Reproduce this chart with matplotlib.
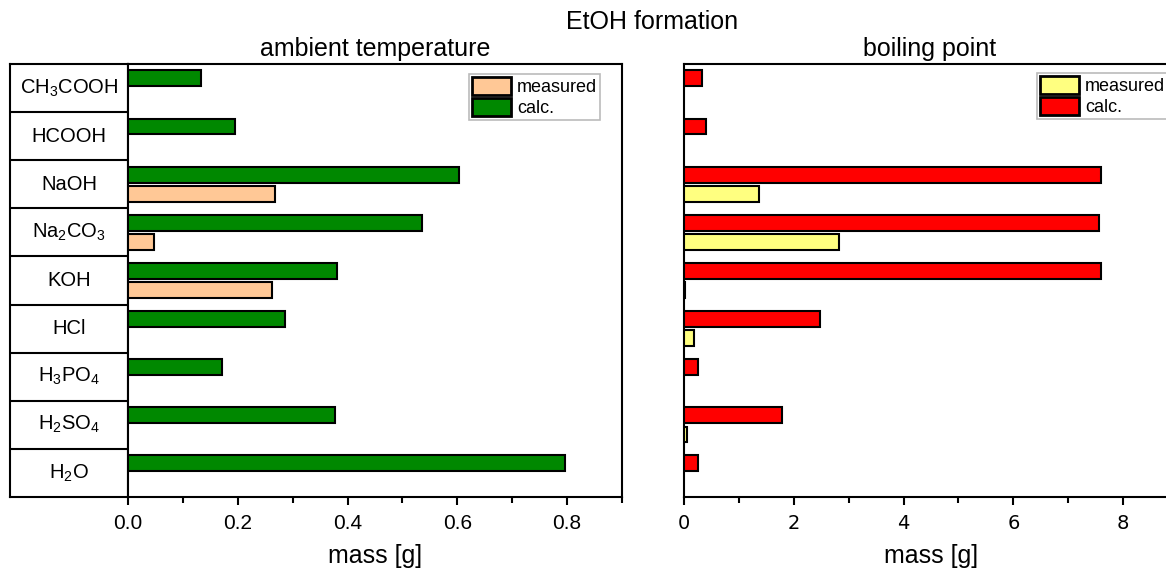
import numpy as np
import matplotlib.pyplot as plt
from matplotlib.patches import Patch
from matplotlib.ticker import MultipleLocator, FormatStrFormatter

plt.rcParams['font.family'] = ['Liberation Sans', 'DejaVu Sans']
plt.rcParams['mathtext.fontset'] = 'custom'
plt.rcParams['mathtext.rm'] = 'Liberation Sans'
plt.rcParams['mathtext.it'] = 'Liberation Sans:italic'

categories = ['CH$_3$COOH', 'HCOOH', 'NaOH', 'Na$_2$CO$_3$', 'KOH', 'HCl',
              'H$_3$PO$_4$', 'H$_2$SO$_4$', 'H$_2$O']
amb_calc = [0.133, 0.195, 0.603, 0.536, 0.381, 0.286, 0.171, 0.377, 0.797]
amb_meas = [np.nan, np.nan, 0.267, 0.048, 0.263, np.nan, np.nan, np.nan, np.nan]
bp_calc = [0.32, 0.40, 7.59, 7.56, 7.59, 2.47, 0.25, 1.79, 0.25]
bp_meas = [np.nan, np.nan, 1.37, 2.82, 0.02, 0.19, np.nan, 0.06, np.nan]

W, H = 1166, 574
fig = plt.figure(figsize=(W / 100, H / 100), dpi=100)

def box(x0, x1, y0=64, y1=497):
    return [x0 / W, 1 - y1 / H, (x1 - x0) / W, (y1 - y0) / H]

ax_t = fig.add_axes(box(10, 128))
ax1 = fig.add_axes(box(128, 622))
ax2 = fig.add_axes(box(684, 1178))

y = np.arange(len(categories))
h = 0.33
off = 0.2

# label table on the left
ax_t.set_ylim(len(categories) - 0.5, -0.5)
ax_t.set_xlim(0, 1)
for i, c in enumerate(categories):
    ax_t.text(0.5, i, c, ha='center', va='center', fontsize=14.5)
    if i > 0:
        ax_t.axhline(i - 0.5, color='black', lw=1.5)
ax_t.set_xticks([])
ax_t.set_yticks([])
for s in ax_t.spines.values():
    s.set_linewidth(1.5)

def panel(ax, calc, meas, c_calc, c_meas, xmax, major, minor, leg_xy):
    calc = np.array(calc)
    meas = np.array(meas)
    m = np.isfinite(meas)
    ax.barh(y - off, calc, height=h, color=c_calc, edgecolor='black', lw=1.5, zorder=3)
    ax.barh(y[m] + off, meas[m], height=h, color=c_meas, edgecolor='black', lw=1.5, zorder=3)
    ax.set_ylim(len(categories) - 0.5, -0.5)
    ax.set_xlim(0, xmax)
    ax.set_yticks([])
    ax.xaxis.set_major_locator(MultipleLocator(major))
    ax.xaxis.set_minor_locator(MultipleLocator(minor))
    ax.tick_params(axis='x', which='major', direction='out', length=6, width=1.5, labelsize=15, pad=6)
    ax.tick_params(axis='x', which='minor', direction='out', length=4, width=1.5)
    for s in ax.spines.values():
        s.set_linewidth(1.5)
    ax.set_xlabel('mass [g]', fontsize=18, labelpad=8)
    leg = ax.legend(handles=[Patch(facecolor=c_meas, edgecolor='black', lw=2, label='measured'),
                             Patch(facecolor=c_calc, edgecolor='black', lw=2, label='calc.')],
                    fontsize=13, frameon=True, fancybox=False, borderpad=0.15,
                    labelspacing=0.12, handlelength=2.2, handleheight=1.15,
                    handletextpad=0.3, borderaxespad=0, loc='upper left',
                    bbox_to_anchor=(leg_xy[0] / W, 1 - leg_xy[1] / H),
                    bbox_transform=fig.transFigure)
    leg.get_frame().set_edgecolor('#aaaaaa')
    leg.get_frame().set_linewidth(1.2)
    return leg

panel(ax1, amb_calc, amb_meas, '#008800', '#FFC896', 0.9, 0.2, 0.1, (469, 74))
ax1.xaxis.set_major_formatter(FormatStrFormatter('%.1f'))
panel(ax2, bp_calc, bp_meas, '#FF0000', '#FFFF80', 9, 2, 1, (1037, 73))
for lab in ax2.get_xticklabels():
    lab.set_family('DejaVu Sans')
    lab.set_fontsize(14)

ax1.set_title('ambient temperature', fontsize=18, pad=6)
ax2.set_title('boiling point', fontsize=18, pad=6)
ax2.title.set_position(((930 - 684) / 494, 1))
fig.text(652 / W, 1 - 22 / H, 'EtOH formation', ha='center', va='center', fontsize=18)

fig.savefig('out.png', dpi=100)
